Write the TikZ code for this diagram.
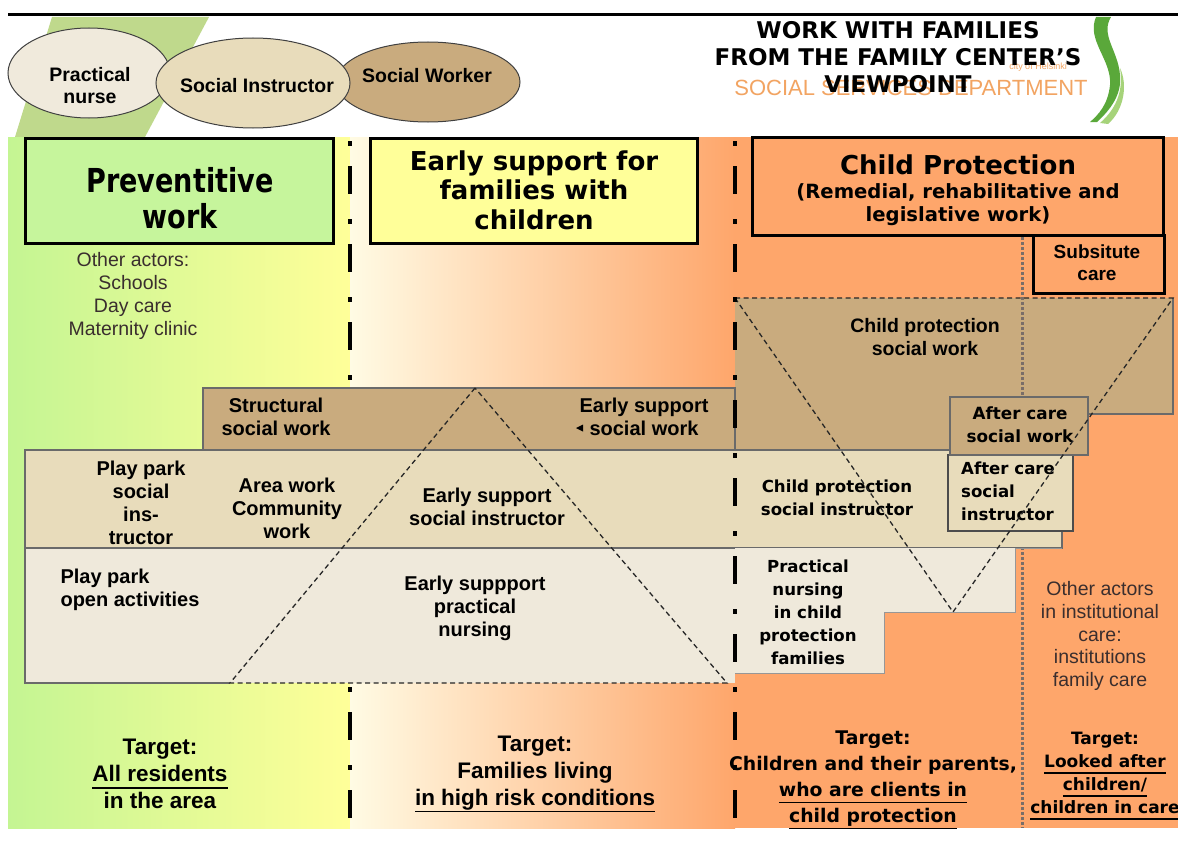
\documentclass[tikz,border=0pt]{standalone}
\usepackage{fontspec}
\setmainfont{Liberation Sans}
\newfontfamily\fv{DejaVu Sans}
\usetikzlibrary{shapes.geometric}
\newcommand\fsz[2]{\fontsize{#1}{#2}\selectfont}
\newcommand\ul[1]{\vtop{\hbox{\vphantom{gp}#1}\kern1pt\hrule height 1.4pt}}
\definecolor{cgreen}{HTML}{C4F593}
\definecolor{cgreenbox}{HTML}{C6F59C}
\definecolor{cyellow}{HTML}{FFFF99}
\definecolor{ccream}{HTML}{FFFBE4}
\definecolor{cpeach}{HTML}{FFD8A8}
\definecolor{corange}{HTML}{FEA66B}
\definecolor{ctan}{HTML}{C9AB7E}
\definecolor{cbeige}{HTML}{E8DCBB}
\definecolor{clight}{HTML}{EFE9DB}
\definecolor{cnurse}{HTML}{F0EADC}
\definecolor{cedge}{HTML}{6A6A6A}
\definecolor{cband}{HTML}{BFD98C}
\definecolor{cdept}{HTML}{F2A462}
\definecolor{ctxt}{HTML}{3A2E2E}
\definecolor{cdot}{HTML}{7A6E68}
\definecolor{gdark}{HTML}{5AA83A}
\definecolor{glight}{HTML}{A6D37A}
\begin{document}
\begin{tikzpicture}[x=1pt,y=-1pt,
  ell/.style={ellipse, draw=black!75, line width=1pt, inner sep=0pt},
  ab/.style={font=\bfseries\fsz{20}{23}, align=center, inner sep=0pt},
  ar/.style={font=\fsz{19.5}{22.7}, align=center, inner sep=0pt, text=ctxt},
  vb/.style={font=\fv\bfseries\fsz{16.6}{23}, align=center, inner sep=0pt},
  hd/.style={font=\fv\bfseries\fsz{26}{29.5}, align=center, inner sep=0pt},
  hbox/.style={draw=black, line width=3pt},
  band/.style={draw=cedge, line width=1.2pt},
  ddot/.style={draw=black, line width=4pt, dash pattern=on 5pt off 20pt on 28pt off 25pt},
  dsh/.style={draw=black!85, line width=1.3pt, dash pattern=on 5pt off 3.5pt},
  dotl/.style={draw=cdot, line width=3pt, dash pattern=on 2.5pt off 2.5pt},
  tgl/.style={font=\bfseries\fsz{22.5}{27}, align=center, inner sep=0pt},
  tgv/.style={font=\fv\bfseries\fsz{18.8}{26}, align=center, inner sep=0pt}
]
\useasboundingbox (0,0) rectangle (1178,859);
\fill[white] (0,0) rectangle (1178,859);

% top rule and decorative band
\fill[cband] (52,17) -- (209,17) -- (145,137) -- (15,137) -- cycle;
\draw[line width=3pt] (8,15) -- (1178,15);

% ellipses
\node[ell, fill=cnurse, minimum width=162pt, minimum height=90pt] (nurse) at (89,73) {};
\node[ell, fill=ctan, minimum width=184pt, minimum height=80pt] (worker) at (428,82) {};
\node[ell, fill=cbeige, minimum width=194pt, minimum height=90pt] (instr) at (253,83) {};
\node[ab, font=\bfseries\fsz{19.5}{22}] (nursetxt) at (90,86) {Practical\\nurse};
\node[ab, font=\bfseries\fsz{19.5}{22}] (instrtxt) at (257,86) {Social Instructor};
\node[ab, font=\bfseries\fsz{19.5}{22}] (workertxt) at (427,76) {Social Worker};

% logo and title
\node[font=\fsz{22}{26}, text=cdept, inner sep=0pt] (dept) at (911,88) {SOCIAL SERVICES DEPARTMENT};
\node[font=\fsz{9}{10}, text=cdept, inner sep=0pt] (city) at (1038,67) {city of Helsinki};
\fill[gdark] (1096,17) .. controls (1086,40) and (1112,60) .. (1110,85) .. controls (1108,105) and (1098,115) .. (1090,122) -- (1097,122) .. controls (1110,110) and (1122,95) .. (1120,75) .. controls (1118,50) and (1100,35) .. (1111,17) -- cycle;
\fill[glight] (1100,123) .. controls (1115,110) and (1124,92) .. (1120,68) .. controls (1128,85) and (1124,110) .. (1108,124) -- cycle;
\node[font=\fv\bfseries\fsz{23}{27}, align=center, inner sep=0pt] (title) at (898,57) {WORK WITH FAMILIES\\FROM THE FAMILY CENTER’S\\VIEWPOINT};

% backgrounds
\fill[left color=cgreen, right color=cyellow] (8,137) rectangle (350,828);
\shade[left color=ccream, middle color=cpeach, right color=corange] (350,137) rectangle (735,828);
\fill[corange] (735,137) rectangle (1178,828);

% left separator (behind the bands)
\draw[ddot] (350,141) -- (350,828);

% header boxes
\draw[hbox, fill=cgreenbox] (25,138) rectangle (333,243);
\draw[hbox, fill=cyellow] (370,138) rectangle (697,243);
\draw[hbox, fill=corange] (752,137) rectangle (1163,235);
\draw[hbox, fill=corange] (1033,235) rectangle (1164,293);
\node[font=\fv\bfseries\fsz{33}{36}, align=center, inner sep=0pt] (prevtxt) at (180,198) {\scalebox{0.82}[1]{Preventitive}\\\scalebox{0.82}[1]{work}};
\node[hd] (earlytxt) at (534,190) {Early support for\\families with\\children};
\node[hd] (cptxt) at (958,165) {Child Protection};
\node[font=\fv\bfseries\fsz{19.6}{23}, align=center, inner sep=0pt] (cpsub) at (958,205) {(Remedial, rehabilitative and\\legislative work)};
\node[ab, font=\bfseries\fsz{19}{22}] (subst) at (1097,263) {Subsitute\\care};
\node[ar] (oth1) at (133,296) {Other actors:\\Schools\\Day care\\Maternity clinic};

% CP social work area
\fill[ctan] (735,298) -- (1173,298) -- (1173,414) -- (1088,414) -- (1088,450) -- (735,450) -- cycle;
\draw[band] (1173,298) -- (1173,414) -- (1088,414);
\draw[dotl] (1022,237) -- (1022,828);

% band 1
\draw[band, fill=ctan] (203,388) rectangle (735,450);
% band 2
\draw[band, fill=cbeige] (25,450) -- (1062,450) -- (1062,548) -- (25,548) -- cycle;
% after care boxes
\draw[draw=black!70, line width=1.4pt, fill=cbeige] (948,455) rectangle (1073,531);
\draw[band, fill=ctan] (950,397) rectangle (1088,455);
% band 3
\fill[clight] (25,548) rectangle (735,683);
\draw[band] (230,683) -- (25,683) -- (25,548) -- (735,548);
\fill[clight] (735,548) -- (1015,548) -- (1015,612) -- (884,612) -- (884,673) -- (735,673) -- cycle;
\draw[draw=cedge!70, line width=1pt] (1062,548) -- (1015,548) -- (1015,612) -- (884,612) -- (884,673) -- (735,673);

% texts in bands
\node[ab] (struct) at (276,417) {Structural\\social work};
\node[ab] (esw) at (644,417) {Early support\\social work};
\fill (576,428) -- (583,424.5) -- (583,431.5) -- cycle;
\node[ab] (ppsi) at (141,503) {Play park\\social\\ins-\\tructor};
\node[ab] (area) at (287,508) {Area work\\Community\\work};
\node[ab] (esi) at (487,507) {Early support\\social instructor};
\node[vb] (cpsi) at (837,498) {Child protection\\social instructor};
\node[ab, align=left] (ppoa) at (130,590) {Play park\\open activities};
\node[ab] (espn) at (475,608) {Early suppport\\practical\\nursing};
\node[vb] (cppn) at (808,612) {Practical\\nursing\\in child\\protection\\families};
\node[ab, font=\bfseries\fsz{19.5}{23}] (cpsw) at (925,337) {Child protection\\social work};
\node[vb, font=\fv\bfseries\fsz{16.8}{23}] (acsw) at (1020,425) {After care\\social work};
\node[vb, align=left, anchor=west] (acsi) at (961,491) {After care\\social\\instructor};
\node[ar] (oth2) at (1100,636) {Other actors\\in institutional\\care:\\institutions\\family care};

% dashed triangles
\draw[dsh] (475,388) -- (230,683) -- (727,683) -- cycle;
\draw[dsh] (735,298) -- (953,612) -- (1173,298) -- cycle;

% right separator (on top)
\draw[ddot] (735,141) -- (735,828);

% targets
\node[tgl] (t1) at (160,774) {Target:\\\ul{All residents}\\in the area};
\node[tgl] (t2) at (535,774) {Target:\\Families living\\\ul{in high risk conditions}};
\node[tgv] (t3) at (873,780) {Target:\\Children and their parents,\\\ul{who are clients in}\\\ul{child protection}};
\node[tgv, font=\fv\bfseries\fsz{17}{23}] (t4) at (1105,776) {Target:\\\ul{Looked after}\\\ul{children/}\\\ul{children in care}};
\end{tikzpicture}
\end{document}
